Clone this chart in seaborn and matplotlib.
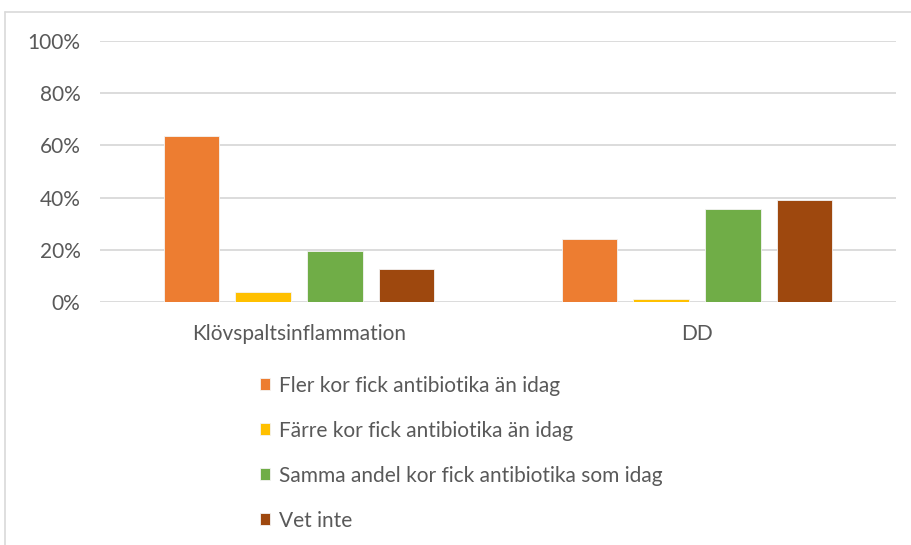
import pandas as pd
import seaborn as sns
from matplotlib import pyplot as plt
from matplotlib.lines import Line2D
from matplotlib.ticker import PercentFormatter

categories = ['Klövspaltsinflammation', 'DD']
answers = [
    'Fler kor fick antibiotika än idag',
    'Färre kor fick antibiotika än idag',
    'Samma andel kor fick antibiotika som idag',
    'Vet inte',
]
klov_values = [63.5, 4, 19.5, 12.5]
dd_values = [24, 1, 35.5, 39]
colors = ['#ED7D31', '#FFC000', '#70AD47', '#9E480E']

rows = []
for cat, vals in zip(categories, [klov_values, dd_values]):
    for ans, v in zip(answers, vals):
        rows.append({'Kategori': cat, 'Svar': ans, 'Andel': v})
df = pd.DataFrame(rows)

sns.set_style('white')
plt.rcParams['font.family'] = ['Lato', 'DejaVu Sans']
text_col = '#595959'
fs = 15

fig = plt.figure(figsize=(9.12, 5.45), dpi=100)
ax = fig.add_axes([0.1096, 0.4459, 0.8729, 0.4789])
sns.barplot(data=df, x='Kategori', y='Andel', hue='Svar', palette=colors,
            saturation=1, width=0.72, gap=0.22, edgecolor='#F4F4F4',
            linewidth=0.6, ax=ax)

ax.set_ylim(0, 100)
ax.set_xlim(-0.5, 1.5)
ax.set_yticks(range(0, 101, 20))
ax.yaxis.set_major_formatter(PercentFormatter(decimals=0))
ax.yaxis.grid(True, color='#D9D9D9', linewidth=1.3)
ax.set_axisbelow(True)
for s in ax.spines.values():
    s.set_visible(False)
ax.tick_params(axis='y', length=0, pad=14, labelsize=fs, labelcolor=text_col)
ax.tick_params(axis='x', length=0, pad=16, labelsize=fs, labelcolor=text_col)
ax.set_xlabel('')
ax.set_ylabel('')

handles, labels = ax.get_legend_handles_labels()
ax.get_legend().remove()
fig.legend(handles, labels, loc='upper left', bbox_to_anchor=(0.276, 0.326),
           frameon=False, fontsize=fs, labelcolor=text_col, handlelength=0.5,
           handleheight=0.5, handletextpad=0.4, labelspacing=1.2,
           borderaxespad=0)

# chart frame
fig.add_artist(Line2D([5 / 912, 5 / 912], [0, 1 - 12 / 545], color='#D9D9D9', lw=1.2))
fig.add_artist(Line2D([5 / 912, 1], [1 - 12 / 545, 1 - 12 / 545], color='#D9D9D9', lw=1.2))

fig.savefig('out.png', dpi=100)
